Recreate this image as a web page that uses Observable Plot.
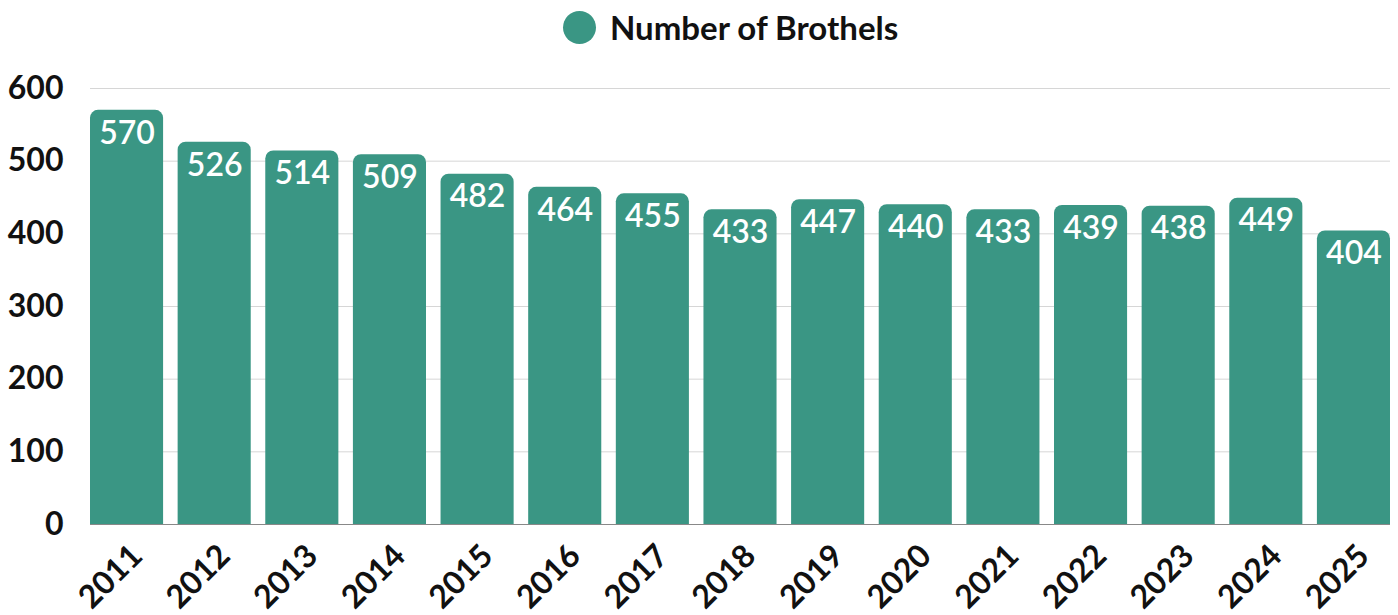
<!DOCTYPE html>
<html>
<head>
<meta charset="utf-8">
<script src="https://cdn.jsdelivr.net/npm/d3@7"></script>
<script src="https://cdn.jsdelivr.net/npm/@observablehq/plot@0.6"></script>
<style>
  html, body { margin: 0; padding: 0; background: #fff; }
  body { width: 1398px; height: 615px; overflow: hidden; font-family: Lato, "Open Sans", sans-serif; }
  #legend { position: relative; height: 58px; }
  #legend .item { position: absolute; left: 563px; top: 11px; display: flex; align-items: center; }
  #legend .dot { width: 33px; height: 33px; border-radius: 50%; background: #3a9684; margin-right: 14px; }
  #legend .lbl { font-family: Lato, sans-serif; font-weight: 700; font-size: 33px; color: #111; line-height: 33px; }
</style>
</head>
<body>
<div id="legend"><div class="item"><div class="dot"></div><div class="lbl">Number of Brothels</div></div></div>
<div id="chart"></div>
<script>
const years = ["2011","2012","2013","2014","2015","2016","2017","2018","2019","2020","2021","2022","2023","2024","2025"];
const brothels = [570, 526, 514, 509, 482, 464, 455, 433, 447, 440, 433, 439, 438, 449, 404];
const yTicks = [0, 100, 200, 300, 400, 500, 600];
const seriesName = "Number of Brothels";

const data = years.map((y, i) => ({year: y, value: brothels[i]}));
const color = "#3a9684";

const chart = Plot.plot({
  width: 1398,
  height: 557,
  marginTop: 30,
  marginBottom: 91,
  marginLeft: 90,
  marginRight: 8,
  style: {fontFamily: "Lato, sans-serif", background: "#fff"},
  x: {domain: years, paddingInner: 0.166, paddingOuter: 0, round: false, label: null},
  y: {domain: [0, 600], ticks: yTicks, label: null},
  marks: [
    Plot.gridY(yTicks, {stroke: "#d6d6d6", strokeOpacity: 1, strokeWidth: 1}),
    Plot.barY(data, {x: "year", y: "value", fill: color, ry1: 8}),
    Plot.ruleY([0], {stroke: "#888", strokeWidth: 1}),
    Plot.text(data, {x: "year", y: "value", text: d => String(d.value), fill: "#fff", fontSize: 32, fontWeight: 600, dy: 23}),
    Plot.axisY(yTicks, {tickSize: 0, tickPadding: 27, fontSize: 32, fontWeight: 700, fill: "#111", label: null}),
    Plot.axisX({tickSize: 0, tickPadding: 26, dx: 10, tickRotate: -45, fontSize: 32, fontWeight: 700, fill: "#111", label: null})
  ]
});
document.getElementById("chart").appendChild(chart);
</script>
</body>
</html>
